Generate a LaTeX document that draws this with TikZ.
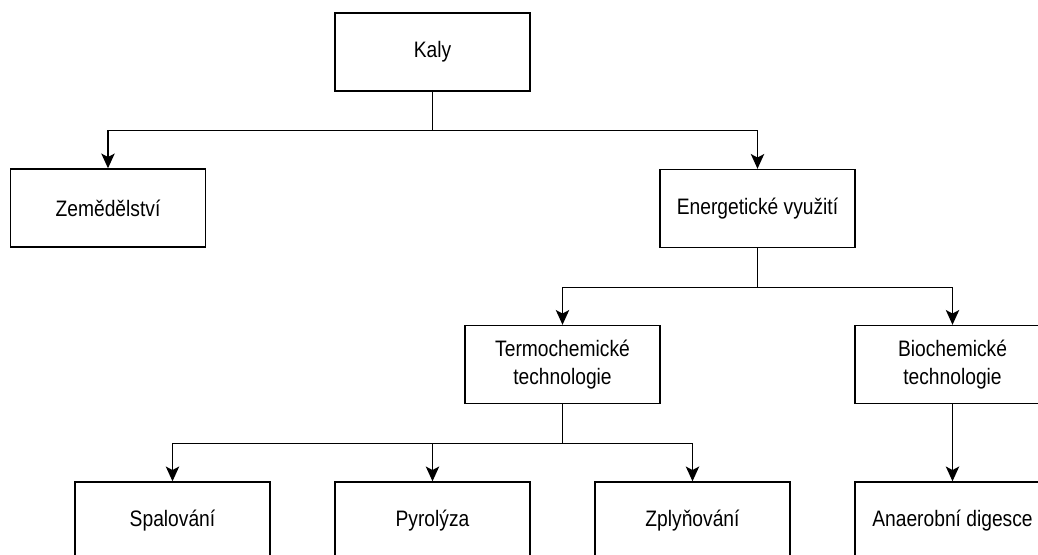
\documentclass[tikz,border=0pt]{standalone}
\usepackage{fontspec}
\setmainfont[FakeStretch=0.86]{Liberation Sans}
\usetikzlibrary{arrows.meta}
\tikzset{
	krok/.style={draw=black, line width=1pt, fill=white, minimum width=4.875cm, minimum height=1.95cm, inner sep=0pt, align=center, font=\fontsize{15.9}{20.5}\selectfont},
	vetev/.style={draw=black, line width=1pt, -{Stealth[length=10.5pt, width=9.5pt, inset=2.5pt]}}
}

\begin{document}
\begin{tikzpicture}[x=0.025cm, y=-0.025cm]
			%%%%% START %%%%%
			
			\useasboundingbox (0, 0) rectangle (1038, 554);
			\clip (0, 0) rectangle (1038, 554);
			
			\node[krok] (kaly) at (432.5, 52) {Kaly};
			
			\node[krok] (zem) at (108, 208) {Zemědělství};
			\node[krok] (energ) at (757.5, 208.5) {Energetické využití};
			
			\node[krok] (termo) at (562.5, 364.5) {Termochemické\\technologie};
			\node[krok] (bio) at (952.5, 364.5) {Biochemické\\technologie};
			
			\node[krok] (spal) at (172.5, 521) {Spalování};
			\node[krok] (pyro) at (432.5, 521) {Pyrolýza};
			\node[krok] (zply) at (692.5, 521) {Zplyňování};
			\node[krok] (anaer) at (952.5, 521) {Anaerobní digesce};
			
			\draw[vetev] (kaly.south) -- ++(0, 39) -| (zem.north);
			\draw[vetev] (kaly.south) -- ++(0, 39) -| (energ.north);
			
			\draw[vetev] (energ.south) -- ++(0, 39) -| (termo.north);
			\draw[vetev] (energ.south) -- ++(0, 39) -| (bio.north);
			
			\draw[vetev] (termo.south) -- ++(0, 39) -| (spal.north);
			\draw[vetev] (termo.south) -- ++(0, 39) -| (pyro.north);
			\draw[vetev] (termo.south) -- ++(0, 39) -| (zply.north);
			
			\draw[vetev] (bio.south) -- (anaer.north);
			
			%%%%% END %%%%%
		\end{tikzpicture}
\end{document}
